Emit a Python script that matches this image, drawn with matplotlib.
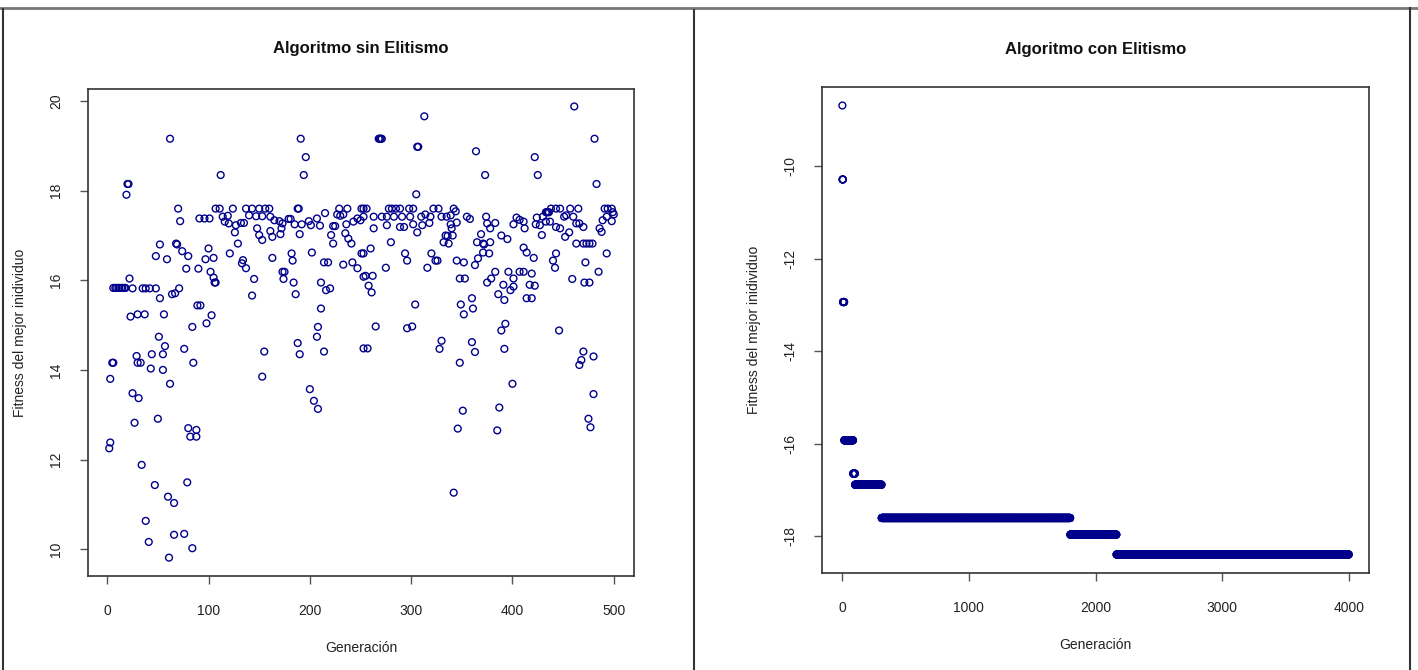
import matplotlib
matplotlib.use("Agg")
import matplotlib.pyplot as plt
from matplotlib.lines import Line2D
import numpy as np

plt.rcParams['font.family'] = ['Liberation Sans', 'DejaVu Sans']
plt.rcParams['axes.unicode_minus'] = False

# Algoritmo sin Elitismo: generacion / fitness
generacion = [
    2, 3, 3, 5, 6, 6, 8, 9, 11, 12, 14, 15, 17, 18, 19, 20, 21,
    22, 23, 25, 25, 27, 29, 30, 30, 31, 33, 34, 35, 37, 38, 38, 41, 42, 43, 44,
    47, 48, 48, 50, 51, 52, 52, 55, 55, 56, 57, 59, 60, 61, 62, 62, 64, 66, 66,
    67, 68, 69, 70, 71, 72, 74, 76, 76, 78, 79, 80, 80, 82, 84, 84, 85, 88, 88,
    89, 90, 91, 92, 96, 97, 98, 100, 101, 102, 103, 105, 105, 106, 107,
    107, 111, 112, 114, 116, 119, 120, 121, 124, 126, 127, 129, 132, 133, 134,
    135, 137, 137, 140, 143, 143, 145, 147, 148, 150, 150, 153, 153, 153, 155,
    156, 160, 161, 161, 163, 163, 165, 170, 171, 172, 173, 173, 174, 175, 179,
    181, 182, 183, 184, 185, 186, 188, 188, 189, 190, 190, 191, 192, 194, 196,
    199, 200, 201, 202, 204, 207, 207, 208, 208, 210, 211, 211, 214, 214, 215,
    216, 218, 220, 221, 223, 223, 225, 227, 229, 230, 233, 233, 235, 236, 237,
    238, 241, 242, 243, 247, 247, 250, 251, 251, 253, 253, 253,
    253, 253, 255, 256, 257, 258, 260, 261, 262, 263, 263, 265, 268, 269, 270,
    271, 271, 275, 276, 276, 278, 280, 281, 283, 285, 289, 289, 291, 293, 294,
    296, 296, 298, 299, 301, 302, 302, 304, 305, 306, 306, 307, 310, 311, 313,
    314, 316, 318, 319, 320, 322, 324, 326, 327, 328, 330, 330, 332, 334, 335,
    336, 337, 339, 339, 340, 341, 342, 342, 344, 345, 345, 346, 348, 348, 349,
    351, 352, 352, 353, 355, 358, 360, 360, 361, 363, 363, 364, 365, 366, 369,
    371, 371, 372, 373, 374, 375, 375, 377, 378, 378, 379, 383, 383, 385, 386,
    387, 389, 389, 391, 392, 392, 393, 395, 396, 398, 400, 401, 401, 401, 404,
    407, 407, 411, 411, 411, 412, 414, 414, 417, 419, 419, 421, 422, 422, 423,
    424, 425, 427, 429, 430, 433, 433, 434, 435, 436, 437, 438, 440, 442, 443,
    443, 443, 446, 447, 447, 451, 452, 453, 456, 457, 459, 460, 461, 463, 463,
    465, 466, 466, 468, 470, 470, 470, 471, 472, 473, 475, 476, 476, 477, 479,
    480, 480, 481, 483, 485, 486, 488, 489, 491, 493, 493, 494, 498, 498, 499,
    500,
]
fitness = [
    12.25, 12.38, 13.80, 14.16, 14.16, 15.83, 15.83, 15.83, 15.83, 15.83, 15.83, 15.83, 15.83, 15.83, 17.91, 18.15, 18.15,
    16.04, 15.19, 15.82, 13.48, 12.82, 14.31, 14.16, 15.24, 13.37, 14.16, 11.88, 15.82, 15.24, 15.82, 10.63, 10.16, 15.82, 14.03, 14.35,
    11.43, 15.82, 16.54, 12.91, 14.74, 15.60, 16.80, 14.35, 14.00, 15.24, 14.53, 16.47, 11.17, 9.81, 19.16, 13.69, 15.69, 11.03, 10.32,
    15.71, 16.82, 16.80, 17.60, 15.82, 17.32, 16.65, 14.47, 10.34, 16.26, 11.49, 16.54, 12.70, 12.51, 14.96, 10.02, 14.16, 12.66, 12.51,
    15.44, 16.26, 17.38, 15.44, 17.38, 16.47, 15.04, 16.71, 17.38, 16.19, 15.22, 16.50, 16.06, 15.95, 15.95,
    17.60, 17.60, 18.35, 17.42, 17.31, 17.44, 17.27, 16.60, 17.60, 17.07, 17.23, 16.82, 17.28, 16.38, 16.45,
    17.28, 17.60, 16.27, 17.45, 17.60, 15.66, 16.03, 17.43, 17.16, 17.60, 17.01, 17.43, 16.90, 13.85, 14.41,
    17.60, 17.60, 17.42, 17.10, 16.97, 16.50, 17.34, 17.32, 17.03, 17.16, 17.27, 16.19, 16.03, 16.19, 17.37,
    17.37, 16.60, 16.44, 15.95, 17.25, 15.69, 17.60, 14.60, 17.60, 17.03, 14.35, 19.16, 17.25, 18.35, 18.75,
    17.32, 13.57, 17.23, 16.62, 13.31, 17.38, 14.74, 14.96, 13.13, 17.22, 15.95, 15.37, 16.40, 14.41, 17.50,
    15.78, 16.40, 15.82, 17.01, 17.21, 16.82, 17.21, 17.47, 17.60, 17.44, 17.47, 16.35, 17.05, 17.25, 17.60,
    16.93, 16.82, 16.40, 17.31, 17.38, 16.27, 17.34, 17.60, 16.60, 17.60, 17.42, 16.08,
    14.48, 16.60, 16.10, 17.60, 14.48, 15.88, 16.71, 15.73, 16.10, 17.42, 17.16, 14.97, 19.16, 19.16, 19.16,
    19.16, 17.42, 16.28, 17.42, 17.23, 17.60, 16.85, 17.60, 17.42, 17.60, 17.60, 17.19, 17.42, 17.19, 16.60,
    16.44, 14.93, 17.60, 17.42, 14.97, 17.60, 17.25, 15.46, 17.92, 18.98, 17.07, 18.98, 17.42, 17.23, 19.66,
    17.47, 16.28, 17.28, 17.42, 16.60, 17.60, 16.44, 16.44, 17.60, 14.47, 17.42, 14.65, 16.85, 17.00, 17.42,
    16.99, 16.82, 17.45, 17.25, 17.16, 17.00, 17.60, 11.26, 17.54, 17.29, 16.44, 12.69, 16.04, 14.16, 15.46,
    13.09, 16.40, 15.24, 16.04, 17.42, 17.37, 15.60, 14.62, 15.37, 16.34, 14.40, 18.88, 16.85, 16.49, 17.03,
    16.62, 16.82, 16.80, 18.35, 17.42, 15.95, 17.27, 16.60, 16.85, 17.16, 16.04, 16.19, 17.28, 12.65, 15.69,
    13.16, 14.88, 17.00, 15.90, 15.56, 14.47, 15.03, 16.92, 16.19, 15.78, 13.69, 16.04, 15.86, 17.25, 17.40,
    16.19, 17.35, 16.73, 16.19, 17.31, 17.16, 16.62, 15.60, 15.90, 16.15, 15.60, 16.50, 18.75, 15.88, 17.25,
    17.40, 18.35, 17.23, 17.01, 17.42, 17.52, 17.31, 17.52, 17.52, 17.52, 17.31, 17.60, 16.44, 16.28, 16.60,
    17.60, 17.19, 14.88, 17.60, 17.16, 17.42, 16.97, 17.45, 17.07, 17.60, 16.03, 17.42, 19.88, 16.82, 17.27,
    17.60, 17.27, 14.11, 14.22, 16.82, 14.41, 17.19, 15.95, 16.40, 16.82, 12.91, 16.82, 15.95, 12.72, 16.82,
    14.30, 13.46, 19.16, 18.15, 16.19, 17.16, 17.08, 17.34, 17.60, 17.42, 16.60, 17.60, 17.60, 17.32, 17.52,
    17.47,
]

# Algoritmo con Elitismo: best fitness stays constant over runs of generations
step_fitness = [-8.69, -10.29, -12.94, -15.93, -16.65, -16.89, -17.61, -17.97, -18.40]
step_length = [1, 4, 10, 70, 15, 210, 1490, 365, 1835]

gen_elit = np.arange(1, sum(step_length) + 1)
fit_elit = np.repeat(step_fitness, step_length)

W, H = 1418, 670
fig = plt.figure(figsize=(W / 100, H / 100), dpi=100)

col = '#00008B'
txt = '#222222'

def style(ax):
    for s in ax.spines.values():
        s.set_linewidth(1.2)
        s.set_color('#333333')
    ax.tick_params(length=6, width=1.0, color='#555555', labelsize=10, labelcolor=txt)
    ax.tick_params(axis='x', pad=14)
    ax.tick_params(axis='y', pad=12)
    for lab in ax.get_yticklabels():
        lab.set_rotation(90)
        lab.set_va('center')

ax1 = fig.add_axes([88 / W, 1 - 576 / H, 546 / W, 487 / H])
ax1.scatter(generacion, fitness, s=24, facecolors='none', edgecolors=col, linewidths=1.0)
ax1.set_xlim(-18.96, 519.96)
ax1.set_ylim(9.40, 20.27)
ax1.set_xticks([0, 100, 200, 300, 400, 500])
ax1.set_yticks([10, 12, 14, 16, 18, 20])
ax1.set_title('Algoritmo sin Elitismo', fontsize=12, fontweight='bold', pad=26, color='#111111')
ax1.set_xlabel('Generación', fontsize=10, color=txt, labelpad=17)
ax1.set_ylabel('Fitness del mejor inidividuo', fontsize=10, color=txt, labelpad=16)
style(ax1)

ax2 = fig.add_axes([822 / W, 1 - 573 / H, 547 / W, 486 / H])
ax2.scatter(gen_elit, fit_elit, s=24, facecolors='none', edgecolors=col, linewidths=1.0)
ax2.set_xlim(-160, 4160)
ax2.set_ylim(-18.80, -8.29)
ax2.set_xticks([0, 1000, 2000, 3000, 4000])
ax2.set_yticks([-10, -12, -14, -16, -18])
ax2.set_title('Algoritmo con Elitismo', fontsize=12, fontweight='bold', pad=24, color='#111111')
ax2.set_xlabel('Generación', fontsize=10, color=txt, labelpad=17)
ax2.set_ylabel('Fitness del mejor inidividuo', fontsize=10, color=txt, labelpad=16)
style(ax2)

# page frame and divider
def line(x0, y0, x1, y1, c='#333333', lw=1.5):
    fig.add_artist(Line2D([x0 / W, x1 / W], [1 - y0 / H, 1 - y1 / H], color=c, lw=lw))

line(0, 8, W, 8, c='#777777', lw=2)
line(3, 9, 3, H)
line(694, 10, 694, H)
line(1410, 8, 1410, H)

fig.savefig('out.png', dpi=100)
